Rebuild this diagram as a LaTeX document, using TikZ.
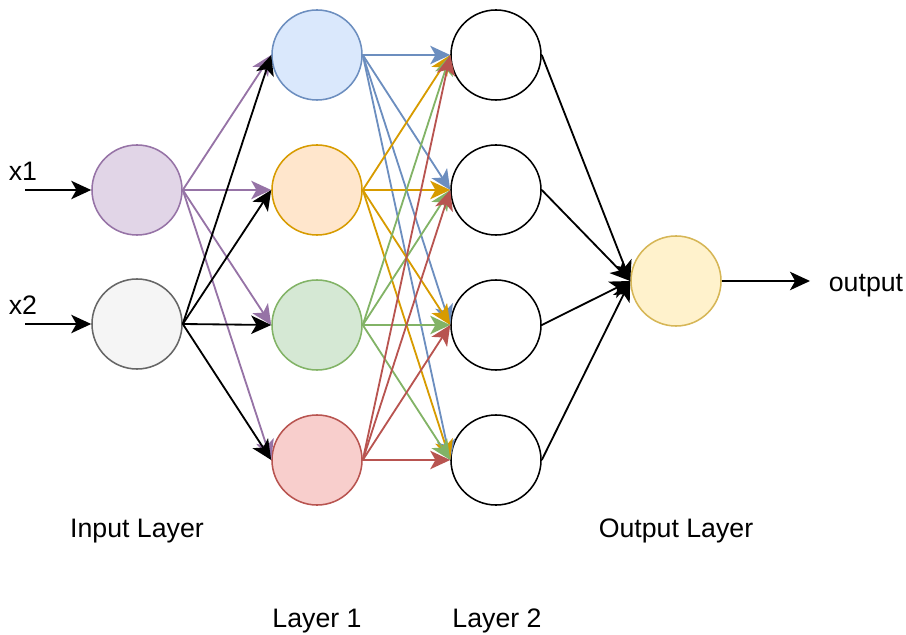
\documentclass[tikz,border=0pt]{standalone}
\usepackage{fontspec}
\setmainfont{Liberation Sans}
\usetikzlibrary{arrows.meta,positioning}
\definecolor{purplefill}{HTML}{E1D5E7}
\definecolor{purpleline}{HTML}{9673A6}
\definecolor{grayfill}{HTML}{F5F5F5}
\definecolor{grayline}{HTML}{666666}
\definecolor{bluefill}{HTML}{DAE8FC}
\definecolor{blueline}{HTML}{6C8EBF}
\definecolor{orangefill}{HTML}{FFE6CC}
\definecolor{orangeline}{HTML}{D79B00}
\definecolor{greenfill}{HTML}{D5E8D4}
\definecolor{greenline}{HTML}{82B366}
\definecolor{redfill}{HTML}{F8CECC}
\definecolor{redline}{HTML}{B85450}
\definecolor{yellowfill}{HTML}{FFF2CC}
\definecolor{yellowline}{HTML}{D6B656}

\begin{document}
\begin{tikzpicture}[
    x=0.025cm, y=-0.025cm,
    neuron/.style={draw, circle, minimum size=2.25cm, inner sep=0pt, line width=1.1pt},
    arrow/.style={-{Stealth[length=0.5cm, width=0.46cm, inset=0.13cm]}, line width=1.3pt},
    layertext/.style={font=\fontsize{19}{23}\selectfont}
]
    \useasboundingbox (0,0) rectangle (906,635);

    % input layer
    \node[neuron, draw=purpleline, fill=purplefill] (in1) at (137,190) {};
    \node[neuron, draw=grayline, fill=grayfill] (in2) at (137,324) {};

    % layer 1
    \node[neuron, draw=blueline, fill=bluefill] (h1) at (317,55) {};
    \node[neuron, draw=orangeline, fill=orangefill] (h2) at (317,190) {};
    \node[neuron, draw=greenline, fill=greenfill] (h3) at (317,325) {};
    \node[neuron, draw=redline, fill=redfill] (h4) at (317,460) {};

    % layer 2
    \node[neuron] (g1) at (496,55) {};
    \node[neuron] (g2) at (496,190) {};
    \node[neuron] (g3) at (496,325) {};
    \node[neuron] (g4) at (496,460) {};

    % output
    \node[neuron, draw=yellowline, fill=yellowfill] (out) at (676,281) {};

    % texts
    \node[layertext] (x1) at (23,171) {x1};
    \node[layertext] (x2) at (23,305) {x2};
    \node[layertext] (outtext) at (866,286) {output};
    \node[layertext] (inputlayer) at (137,531) {Input Layer};
    \node[layertext] (outputlayer) at (676,531) {Output Layer};
    \node[layertext] (layer1) at (317,621) {Layer 1};
    \node[layertext] (layer2) at (497,621) {Layer 2};

    \coordinate (x1start) at (25,190);
    \coordinate (x2start) at (25,324);
    \coordinate (outend) at (810,281);

    \draw[arrow] (x1start) -- (in1.west);
    \draw[arrow] (x2start) -- (in2.west);

    \draw[arrow, purpleline] (in1.east) -- (h1.west);
    \draw[arrow, purpleline] (in1.east) -- (h2.west);
    \draw[arrow, purpleline] (in1.east) -- (h3.west);
    \draw[arrow, purpleline] (in1.east) -- (h4.west);
    \draw[arrow] (in2.east) -- (h1.west);
    \draw[arrow] (in2.east) -- (h2.west);
    \draw[arrow] (in2.east) -- (h3.west);
    \draw[arrow] (in2.east) -- (h4.west);

    \draw[arrow, blueline] (h1.east) -- (g1.west);
    \draw[arrow, blueline] (h1.east) -- (g2.west);
    \draw[arrow, blueline] (h1.east) -- (g3.west);
    \draw[arrow, blueline] (h1.east) -- (g4.west);
    \draw[arrow, orangeline] (h2.east) -- (g1.west);
    \draw[arrow, orangeline] (h2.east) -- (g2.west);
    \draw[arrow, orangeline] (h2.east) -- (g3.west);
    \draw[arrow, orangeline] (h2.east) -- (g4.west);
    \draw[arrow, greenline] (h3.east) -- (g1.west);
    \draw[arrow, greenline] (h3.east) -- (g2.west);
    \draw[arrow, greenline] (h3.east) -- (g3.west);
    \draw[arrow, greenline] (h3.east) -- (g4.west);
    \draw[arrow, redline] (h4.east) -- (g1.west);
    \draw[arrow, redline] (h4.east) -- (g2.west);
    \draw[arrow, redline] (h4.east) -- (g3.west);
    \draw[arrow, redline] (h4.east) -- (g4.west);

    \draw[arrow] (g1.east) -- (out.west);
    \draw[arrow] (g2.east) -- (out.west);
    \draw[arrow] (g3.east) -- (out.west);
    \draw[arrow] (g4.east) -- (out.west);

    \draw[arrow] (out.east) -- (outend);
\end{tikzpicture}
\end{document}
